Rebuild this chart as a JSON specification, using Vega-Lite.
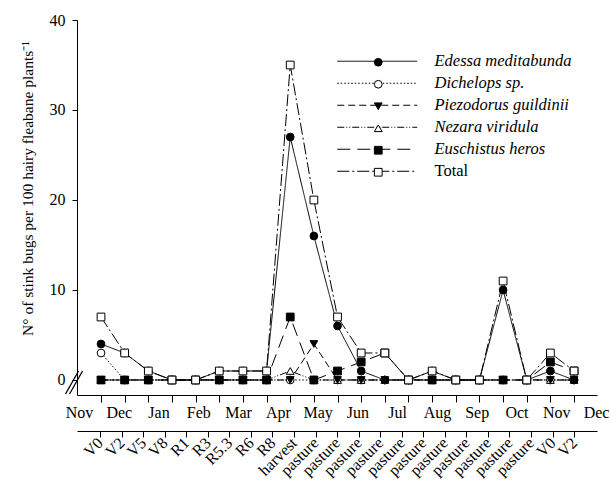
{
  "$schema": "https://vega.github.io/schema/vega-lite/v6.json",
  "width": 520,
  "height": 375,
  "autosize": {"type": "none"},
  "padding": {"left": 77, "top": 20, "right": 14, "bottom": 94},
  "background": "white",
  "config": {
    "view": {"stroke": null},
    "font": "Liberation Serif",
    "axis": {
      "labelFont": "Liberation Serif", "titleFont": "Liberation Serif",
      "labelFontSize": 16, "titleFontSize": 15.5, "titleFontWeight": "normal",
      "labelColor": "black", "titleColor": "black",
      "domainColor": "black", "tickColor": "black", "domainWidth": 1, "tickWidth": 1,
      "grid": false
    },
    "legend": {"labelFont": "Liberation Serif", "labelFontSize": 16, "labelColor": "black"}
  },
  "datasets": {
    "counts": [
      {"sample": 0, "species": "Dichelops sp.", "bugs": 3},
      {"sample": 1, "species": "Dichelops sp.", "bugs": 0},
      {"sample": 2, "species": "Dichelops sp.", "bugs": 0},
      {"sample": 3, "species": "Dichelops sp.", "bugs": 0},
      {"sample": 4, "species": "Dichelops sp.", "bugs": 0},
      {"sample": 5, "species": "Dichelops sp.", "bugs": 0},
      {"sample": 6, "species": "Dichelops sp.", "bugs": 0},
      {"sample": 7, "species": "Dichelops sp.", "bugs": 0},
      {"sample": 8, "species": "Dichelops sp.", "bugs": 0},
      {"sample": 9, "species": "Dichelops sp.", "bugs": 0},
      {"sample": 10, "species": "Dichelops sp.", "bugs": 0},
      {"sample": 11, "species": "Dichelops sp.", "bugs": 0},
      {"sample": 12, "species": "Dichelops sp.", "bugs": 0},
      {"sample": 13, "species": "Dichelops sp.", "bugs": 0},
      {"sample": 14, "species": "Dichelops sp.", "bugs": 0},
      {"sample": 15, "species": "Dichelops sp.", "bugs": 0},
      {"sample": 16, "species": "Dichelops sp.", "bugs": 0},
      {"sample": 17, "species": "Dichelops sp.", "bugs": 0},
      {"sample": 18, "species": "Dichelops sp.", "bugs": 0},
      {"sample": 19, "species": "Dichelops sp.", "bugs": 0},
      {"sample": 20, "species": "Dichelops sp.", "bugs": 0},
      {"sample": 0, "species": "Nezara viridula", "bugs": 0},
      {"sample": 1, "species": "Nezara viridula", "bugs": 0},
      {"sample": 2, "species": "Nezara viridula", "bugs": 0},
      {"sample": 3, "species": "Nezara viridula", "bugs": 0},
      {"sample": 4, "species": "Nezara viridula", "bugs": 0},
      {"sample": 5, "species": "Nezara viridula", "bugs": 0},
      {"sample": 6, "species": "Nezara viridula", "bugs": 0},
      {"sample": 7, "species": "Nezara viridula", "bugs": 0},
      {"sample": 8, "species": "Nezara viridula", "bugs": 1},
      {"sample": 9, "species": "Nezara viridula", "bugs": 0},
      {"sample": 10, "species": "Nezara viridula", "bugs": 0},
      {"sample": 11, "species": "Nezara viridula", "bugs": 0},
      {"sample": 12, "species": "Nezara viridula", "bugs": 0},
      {"sample": 13, "species": "Nezara viridula", "bugs": 0},
      {"sample": 14, "species": "Nezara viridula", "bugs": 0},
      {"sample": 15, "species": "Nezara viridula", "bugs": 0},
      {"sample": 16, "species": "Nezara viridula", "bugs": 0},
      {"sample": 17, "species": "Nezara viridula", "bugs": 0},
      {"sample": 18, "species": "Nezara viridula", "bugs": 0},
      {"sample": 19, "species": "Nezara viridula", "bugs": 0},
      {"sample": 20, "species": "Nezara viridula", "bugs": 0},
      {"sample": 0, "species": "Piezodorus guildinii", "bugs": 0},
      {"sample": 1, "species": "Piezodorus guildinii", "bugs": 0},
      {"sample": 2, "species": "Piezodorus guildinii", "bugs": 0},
      {"sample": 3, "species": "Piezodorus guildinii", "bugs": 0},
      {"sample": 4, "species": "Piezodorus guildinii", "bugs": 0},
      {"sample": 5, "species": "Piezodorus guildinii", "bugs": 0},
      {"sample": 6, "species": "Piezodorus guildinii", "bugs": 0},
      {"sample": 7, "species": "Piezodorus guildinii", "bugs": 0},
      {"sample": 8, "species": "Piezodorus guildinii", "bugs": 0},
      {"sample": 9, "species": "Piezodorus guildinii", "bugs": 4},
      {"sample": 10, "species": "Piezodorus guildinii", "bugs": 0},
      {"sample": 11, "species": "Piezodorus guildinii", "bugs": 0},
      {"sample": 12, "species": "Piezodorus guildinii", "bugs": 0},
      {"sample": 13, "species": "Piezodorus guildinii", "bugs": 0},
      {"sample": 14, "species": "Piezodorus guildinii", "bugs": 0},
      {"sample": 15, "species": "Piezodorus guildinii", "bugs": 0},
      {"sample": 16, "species": "Piezodorus guildinii", "bugs": 0},
      {"sample": 17, "species": "Piezodorus guildinii", "bugs": 0},
      {"sample": 18, "species": "Piezodorus guildinii", "bugs": 0},
      {"sample": 19, "species": "Piezodorus guildinii", "bugs": 0},
      {"sample": 20, "species": "Piezodorus guildinii", "bugs": 0},
      {"sample": 0, "species": "Euschistus heros", "bugs": 0},
      {"sample": 1, "species": "Euschistus heros", "bugs": 0},
      {"sample": 2, "species": "Euschistus heros", "bugs": 0},
      {"sample": 3, "species": "Euschistus heros", "bugs": 0},
      {"sample": 4, "species": "Euschistus heros", "bugs": 0},
      {"sample": 5, "species": "Euschistus heros", "bugs": 0},
      {"sample": 6, "species": "Euschistus heros", "bugs": 0},
      {"sample": 7, "species": "Euschistus heros", "bugs": 0},
      {"sample": 8, "species": "Euschistus heros", "bugs": 7},
      {"sample": 9, "species": "Euschistus heros", "bugs": 0},
      {"sample": 10, "species": "Euschistus heros", "bugs": 1},
      {"sample": 11, "species": "Euschistus heros", "bugs": 2},
      {"sample": 12, "species": "Euschistus heros", "bugs": 3},
      {"sample": 13, "species": "Euschistus heros", "bugs": 0},
      {"sample": 14, "species": "Euschistus heros", "bugs": 0},
      {"sample": 15, "species": "Euschistus heros", "bugs": 0},
      {"sample": 16, "species": "Euschistus heros", "bugs": 0},
      {"sample": 17, "species": "Euschistus heros", "bugs": 0},
      {"sample": 18, "species": "Euschistus heros", "bugs": 0},
      {"sample": 19, "species": "Euschistus heros", "bugs": 2},
      {"sample": 20, "species": "Euschistus heros", "bugs": 1},
      {"sample": 0, "species": "Edessa meditabunda", "bugs": 4},
      {"sample": 1, "species": "Edessa meditabunda", "bugs": 3},
      {"sample": 2, "species": "Edessa meditabunda", "bugs": 1},
      {"sample": 3, "species": "Edessa meditabunda", "bugs": 0},
      {"sample": 4, "species": "Edessa meditabunda", "bugs": 0},
      {"sample": 5, "species": "Edessa meditabunda", "bugs": 1},
      {"sample": 6, "species": "Edessa meditabunda", "bugs": 1},
      {"sample": 7, "species": "Edessa meditabunda", "bugs": 1},
      {"sample": 8, "species": "Edessa meditabunda", "bugs": 27},
      {"sample": 9, "species": "Edessa meditabunda", "bugs": 16},
      {"sample": 10, "species": "Edessa meditabunda", "bugs": 6},
      {"sample": 11, "species": "Edessa meditabunda", "bugs": 1},
      {"sample": 12, "species": "Edessa meditabunda", "bugs": 0},
      {"sample": 13, "species": "Edessa meditabunda", "bugs": 0},
      {"sample": 14, "species": "Edessa meditabunda", "bugs": 1},
      {"sample": 15, "species": "Edessa meditabunda", "bugs": 0},
      {"sample": 16, "species": "Edessa meditabunda", "bugs": 0},
      {"sample": 17, "species": "Edessa meditabunda", "bugs": 10},
      {"sample": 18, "species": "Edessa meditabunda", "bugs": 0},
      {"sample": 19, "species": "Edessa meditabunda", "bugs": 1},
      {"sample": 20, "species": "Edessa meditabunda", "bugs": 0},
      {"sample": 0, "species": "Total", "bugs": 7},
      {"sample": 1, "species": "Total", "bugs": 3},
      {"sample": 2, "species": "Total", "bugs": 1},
      {"sample": 3, "species": "Total", "bugs": 0},
      {"sample": 4, "species": "Total", "bugs": 0},
      {"sample": 5, "species": "Total", "bugs": 1},
      {"sample": 6, "species": "Total", "bugs": 1},
      {"sample": 7, "species": "Total", "bugs": 1},
      {"sample": 8, "species": "Total", "bugs": 35},
      {"sample": 9, "species": "Total", "bugs": 20},
      {"sample": 10, "species": "Total", "bugs": 7},
      {"sample": 11, "species": "Total", "bugs": 3},
      {"sample": 12, "species": "Total", "bugs": 3},
      {"sample": 13, "species": "Total", "bugs": 0},
      {"sample": 14, "species": "Total", "bugs": 1},
      {"sample": 15, "species": "Total", "bugs": 0},
      {"sample": 16, "species": "Total", "bugs": 0},
      {"sample": 17, "species": "Total", "bugs": 11},
      {"sample": 18, "species": "Total", "bugs": 0},
      {"sample": 19, "species": "Total", "bugs": 3},
      {"sample": 20, "species": "Total", "bugs": 1}
    ],
    "months": [
      {"month_pos": 0, "month": "Nov"}, {"month_pos": 1, "month": "Dec"},
      {"month_pos": 2, "month": "Jan"}, {"month_pos": 3, "month": "Feb"},
      {"month_pos": 4, "month": "Mar"}, {"month_pos": 5, "month": "Apr"},
      {"month_pos": 6, "month": "May"}, {"month_pos": 7, "month": "Jun"},
      {"month_pos": 8, "month": "Jul"}, {"month_pos": 9, "month": "Aug"},
      {"month_pos": 10, "month": "Sep"}, {"month_pos": 11, "month": "Oct"},
      {"month_pos": 12, "month": "Nov"}, {"month_pos": 13, "month": "Dec"}
    ],
    "stages": [
      {"stage_pos": 0, "stage": "V0"}, {"stage_pos": 1, "stage": "V2"},
      {"stage_pos": 2, "stage": "V5"}, {"stage_pos": 3, "stage": "V8"},
      {"stage_pos": 4, "stage": "R1"}, {"stage_pos": 5, "stage": "R3"},
      {"stage_pos": 6, "stage": "R5.3"}, {"stage_pos": 7, "stage": "R6"},
      {"stage_pos": 8, "stage": "R8"}, {"stage_pos": 9, "stage": "harvest"},
      {"stage_pos": 10, "stage": "pasture"}, {"stage_pos": 11, "stage": "pasture"},
      {"stage_pos": 12, "stage": "pasture"}, {"stage_pos": 13, "stage": "pasture"},
      {"stage_pos": 14, "stage": "pasture"}, {"stage_pos": 15, "stage": "pasture"},
      {"stage_pos": 16, "stage": "pasture"}, {"stage_pos": 17, "stage": "pasture"},
      {"stage_pos": 18, "stage": "pasture"}, {"stage_pos": 19, "stage": "pasture"},
      {"stage_pos": 20, "stage": "pasture"}, {"stage_pos": 21, "stage": "V0"},
      {"stage_pos": 22, "stage": "V2"}
    ],
    "axis_break": [
      {"from_x": -1.5, "to_x": -0.95, "from_y": -1.55, "to_y": 1.0},
      {"from_x": -1.33, "to_x": -0.78, "from_y": -1.55, "to_y": 1.0}
    ]
  },
  "layer": [
    {
      "data": {"name": "counts"},
      "encoding": {
        "x": {
          "field": "sample", "type": "quantitative",
          "scale": {"domain": [-1.015, 20.97], "nice": false, "zero": false},
          "axis": {"orient": "bottom", "title": null, "values": [0,1,2,3,4,5,6,7,8,9,10,11,12,13,14,15,16,17,18,19,20], "labels": false, "tickSize": 7}
        },
        "y": {
          "field": "bugs", "type": "quantitative",
          "scale": {"domain": [-1.667, 40], "nice": false, "zero": false},
          "axis": {
            "title": "N° of stink bugs per 100 hairy fleabane plants⁻¹",
            "values": [0, 10, 20, 30, 40], "tickSize": 5, "labelPadding": 7,
            "titleAngle": 270, "titleBaseline": "middle", "titleX": -50, "titleY": 168
          }
        }
      },
      "layer": [
        {
          "mark": {"type": "line", "color": "black", "strokeWidth": 1},
          "encoding": {
            "strokeDash": {
              "field": "species", "type": "nominal",
              "sort": ["Edessa meditabunda", "Dichelops sp.", "Piezodorus guildinii", "Nezara viridula", "Euschistus heros", "Total"],
              "scale": {
                "range": [[1, 0], [1.5, 2], [7, 4], [7, 2, 1, 2, 1, 2], [13, 7], [12, 3, 2, 3]]
              },
              "legend": {
                "orient": "none", "legendX": 292, "legendY": 33, "title": null,
                "labelFont": "Liberation Serif", "labelFontSize": 16.5,
                "symbolType": "M-8,0H8", "symbolSize": 100, "symbolStrokeColor": "black", "symbolStrokeWidth": 1,
                "labelOffset": 49, "rowPadding": 5,
                "encode": {"labels": {"update": {"fontStyle": {"signal": "datum.label === 'Total' ? 'normal' : 'italic'"}}}}
              }
            }
          }
        },
        {
          "mark": {"type": "point", "strokeWidth": 1, "size": 60, "opacity": 1},
          "encoding": {
            "shape": {
              "field": "species", "type": "nominal",
              "scale": {
                "domain": ["Edessa meditabunda", "Dichelops sp.", "Piezodorus guildinii", "Nezara viridula", "Euschistus heros", "Total"],
                "range": ["circle", "circle", "triangle-down", "triangle-up", "square", "square"]
              },
              "legend": {
                "orient": "none", "legendX": 293, "legendY": 34, "title": null,
                "labelFont": "Liberation Serif", "labelFontSize": 16.5,
                "symbolSize": 60, "symbolStrokeWidth": 1,
                "labelOpacity": 0, "labelOffset": 49, "rowPadding": 5
              }
            },
            "fill": {
              "field": "species", "type": "nominal",
              "scale": {
                "domain": ["Edessa meditabunda", "Dichelops sp.", "Piezodorus guildinii", "Nezara viridula", "Euschistus heros", "Total"],
                "range": ["black", "white", "black", "white", "black", "white"]
              },
              "legend": {
                "orient": "none", "legendX": 293, "legendY": 34, "title": null,
                "labelFont": "Liberation Serif", "labelFontSize": 16.5,
                "symbolSize": 60, "symbolStrokeWidth": 1,
                "labelOpacity": 0, "labelOffset": 49, "rowPadding": 5
              }
            },
            "stroke": {
              "field": "species", "type": "nominal",
              "scale": {
                "domain": ["Edessa meditabunda", "Dichelops sp.", "Piezodorus guildinii", "Nezara viridula", "Euschistus heros", "Total"],
                "range": ["black", "black", "black", "black", "black", "black"]
              },
              "legend": {
                "orient": "none", "legendX": 293, "legendY": 34, "title": null,
                "labelFont": "Liberation Serif", "labelFontSize": 16.5,
                "symbolSize": 60, "symbolStrokeWidth": 1,
                "labelOpacity": 0, "labelOffset": 49, "rowPadding": 5
              }
            }
          }
        },
        {
          "data": {"name": "axis_break"},
          "mark": {"type": "rule", "color": "black", "strokeWidth": 1.3, "clip": false},
          "encoding": {
            "x": {"field": "from_x", "type": "quantitative"},
            "x2": {"field": "to_x"},
            "y": {"field": "from_y", "type": "quantitative"},
            "y2": {"field": "to_y"}
          }
        }
      ]
    },
    {
      "data": {"name": "months"},
      "mark": {"type": "point", "opacity": 0},
      "encoding": {
        "x": {
          "field": "month_pos", "type": "quantitative",
          "scale": {"domain": [-0.05, 13.025], "nice": false, "zero": false},
          "axis": {
            "orient": "bottom", "title": null, "values": [0,1,2,3,4,5,6,7,8,9,10,11,12,13],
            "labelExpr": "['Nov','Dec','Jan','Feb','Mar','Apr','May','Jun','Jul','Aug','Sep','Oct','Nov','Dec'][datum.value]",
            "domain": false, "ticks": false, "labelPadding": 9, "labelFlush": false, "labelOverlap": false, "labelBound": false
          }
        }
      }
    },
    {
      "data": {"name": "stages"},
      "mark": {"type": "point", "opacity": 0},
      "encoding": {
        "x": {
          "field": "stage_pos", "type": "quantitative",
          "scale": {"domain": [-1.067, 23.06], "nice": false, "zero": false},
          "axis": {
            "orient": "bottom", "title": null, "offset": 36, "values": [0,1,2,3,4,5,6,7,8,9,10,11,12,13,14,15,16,17,18,19,20,21,22],
            "labelExpr": "['V0','V2','V5','V8','R1','R3','R5.3','R6','R8','harvest','pasture','pasture','pasture','pasture','pasture','pasture','pasture','pasture','pasture','pasture','pasture','V0','V2'][datum.value]",
            "tickSize": 6, "labelAngle": -45, "labelAlign": "right", "labelBaseline": "middle", "labelPadding": 3,
            "labelFlush": false, "labelOverlap": false, "labelBound": false
          }
        }
      }
    }
  ],
  "resolve": {"scale": {"x": "independent"}}
}
